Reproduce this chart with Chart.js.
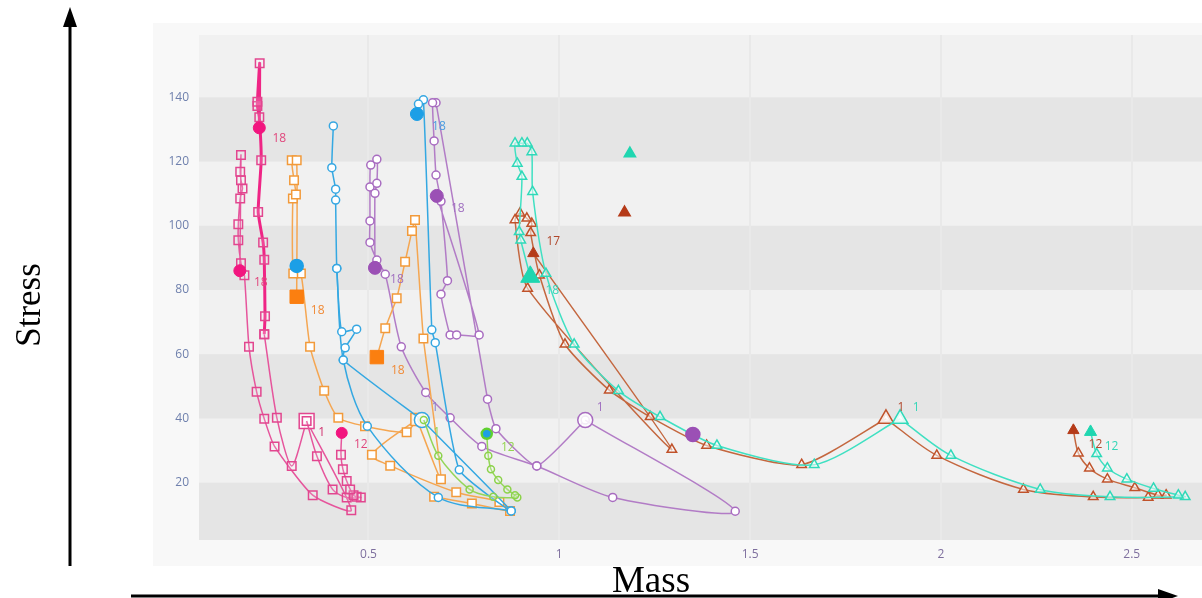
<!DOCTYPE html>
<html><head><meta charset="utf-8">
<script src="https://cdn.jsdelivr.net/npm/chart.js@4.4.0/dist/chart.umd.min.js"></script>
<style>
html,body{margin:0;padding:0;background:#fff;width:1202px;height:598px;overflow:hidden;}
#wrap{position:relative;width:1202px;height:598px;}
canvas,svg{position:absolute;left:0;top:0;}
</style></head><body>
<div id="wrap">
<canvas id="c" width="1202" height="598"></canvas>
<svg width="1202" height="598" xmlns="http://www.w3.org/2000/svg">
  <line x1="70" y1="566" x2="70" y2="24" stroke="#000" stroke-width="3"/>
  <polygon points="70,7 63,27 77,27" fill="#000"/>
  <line x1="131" y1="596" x2="1160" y2="596" stroke="#000" stroke-width="3"/>
  <polygon points="1178,596 1158,589 1158,603" fill="#000"/>
  <text transform="translate(40,305) rotate(-90)" text-anchor="middle" font-family="Liberation Serif" font-size="35" fill="#000">Stress</text>
  <text x="651" y="592" text-anchor="middle" font-family="Liberation Serif" font-size="37" fill="#000">Mass</text>
</svg>
</div>
<script>
// ---- axis ticks ----
const xTicks = [0.5, 1, 1.5, 2, 2.5];
const yTicks = [20, 40, 60, 80, 100, 120, 140];
const darkBands = [[0, 20], [40, 60], [80, 100], [120, 140]];
const X_MIN = 0.056, X_MAX = 2.684, Y_MIN = 2.15, Y_MAX = 159.4;

// ---- pink (squares) ----
const pinkA_x = [0.338, 0.299, 0.260, 0.227];
const pinkA_y = [39.2, 25.2, 40.2, 66.2];
const pinkT_x = [0.227, 0.229, 0.227, 0.224, 0.211, 0.219, 0.214, 0.209, 0.209, 0.215, 0.214];
const pinkT_y = [66.2, 71.8, 89.4, 94.8, 104.3, 120.4, 133.8, 137.3, 138.6, 150.6, 130.5];
const pinkB_x = [0.338, 0.455, 0.354, 0.254, 0.227, 0.207, 0.187, 0.175, 0.166, 0.159, 0.159, 0.164, 0.170, 0.166, 0.164, 0.166, 0.163];
const pinkB_y = [39.2, 11.4, 16.1, 31.3, 39.9, 48.3, 62.3, 84.6, 88.3, 95.5, 100.5, 108.5, 111.6, 114.2, 116.8, 122.0, 86.0];
const pinkC_x = [0.338, 0.365, 0.406, 0.443, 0.480, 0.469, 0.461, 0.452, 0.443, 0.433, 0.428, 0.430];
const pinkC_y = [39.2, 28.2, 17.9, 15.4, 15.4, 15.6, 16.1, 17.9, 20.5, 24.2, 28.7, 35.5];
// ---- orange (squares) ----
const orangeA_x = [0.627, 0.600, 0.491, 0.421, 0.384, 0.347, 0.323, 0.303, 0.302, 0.310, 0.305, 0.299, 0.312, 0.312];
const orangeA_y = [39.7, 35.7, 37.6, 40.2, 48.6, 62.3, 85.1, 85.1, 108.5, 109.7, 114.2, 120.4, 120.4, 77.9];
const orangeB_x = [0.627, 0.690, 0.644, 0.622, 0.614, 0.596, 0.574, 0.544, 0.522];
const orangeB_y = [39.7, 21.1, 64.9, 101.8, 98.4, 88.8, 77.4, 68.1, 59.1];
const orangeC_x = [0.627, 0.509, 0.557, 0.730, 0.843, 0.871, 0.771, 0.672];
const orangeC_y = [39.7, 28.7, 25.3, 17.0, 14.0, 11.2, 13.5, 15.6];
// ---- blue (circles) ----
const blueA_x = [0.640, 0.434, 0.439, 0.469, 0.430, 0.417, 0.414, 0.414, 0.404, 0.408];
const blueA_y = [39.5, 58.2, 62.0, 67.8, 67.0, 86.7, 108.0, 111.4, 118.1, 131.1];
const blueB_x = [0.640, 0.874, 0.738, 0.675, 0.666, 0.644, 0.631, 0.627];
const blueB_y = [39.5, 11.2, 24.0, 63.6, 67.6, 139.2, 137.9, 134.8];
const blueC_x = [0.417, 0.434, 0.497, 0.683, 0.874];
const blueC_y = [86.7, 58.2, 37.6, 15.4, 11.2];
// ---- purple (circles) ----
const purpleA_x = [1.068, 1.461, 1.140, 0.941, 0.797, 0.714, 0.650, 0.586, 0.544, 0.522, 0.504, 0.504, 0.504, 0.506, 0.522, 0.522, 0.517, 0.517];
const purpleA_y = [39.5, 11.1, 15.4, 25.2, 31.3, 40.2, 48.1, 62.3, 84.9, 89.3, 94.8, 101.5, 112.1, 118.9, 120.7, 113.2, 110.1, 86.9];
const purpleB_x = [1.068, 0.941, 0.834, 0.812, 0.677, 0.668, 0.672, 0.677, 0.690, 0.707, 0.690, 0.714, 0.731, 0.790, 0.679];
const purpleB_y = [39.5, 25.2, 36.8, 46.0, 138.3, 138.3, 126.4, 115.8, 107.6, 82.9, 78.7, 66.0, 66.0, 66.0, 109.3];
// ---- green (circles) ----
const greenA_x = [0.645, 0.683, 0.765, 0.827, 0.890, 0.884, 0.864, 0.840, 0.821, 0.814, 0.810];
const greenA_y = [39.5, 28.4, 17.9, 15.6, 15.4, 16.1, 17.9, 20.8, 24.2, 28.4, 35.2];
// ---- teal (triangles) ----
const tealA_x = [1.893, 1.668, 1.413, 1.264, 1.155, 1.039, 0.965, 0.930, 0.928, 0.916, 0.902, 0.884, 0.890, 0.902, 0.895, 0.899, 0.924];
const tealA_y = [39.9, 25.6, 31.6, 40.5, 48.6, 63.1, 85.1, 110.6, 123.0, 125.7, 125.7, 125.7, 119.4, 115.3, 98.1, 95.5, 84.1];
const tealB_x = [1.893, 2.026, 2.260, 2.443, 2.640, 2.622, 2.557, 2.487, 2.436, 2.408, 2.392];
const tealB_y = [39.9, 28.5, 17.9, 15.6, 15.6, 16.1, 18.2, 21.1, 24.5, 29.0, 35.8];
// ---- brown (triangles) ----
const brownA_x = [1.856, 1.635, 1.386, 1.238, 1.131, 1.015, 0.948, 0.925, 0.928, 0.915, 0.897, 0.884, 0.917, 1.295, 0.932];
const brownA_y = [39.9, 25.6, 31.6, 40.5, 48.8, 63.1, 84.6, 97.8, 100.7, 102.3, 103.9, 101.8, 80.5, 30.3, 91.4];
const brownB_x = [1.856, 1.989, 2.216, 2.399, 2.543, 2.590, 2.569, 2.508, 2.436, 2.389, 2.360, 2.347];
const brownB_y = [39.9, 28.5, 17.9, 15.6, 15.4, 16.1, 16.1, 18.4, 21.1, 24.5, 29.2, 36.3];
// ---- standalone reference markers ----
const ref_x = [0.312, 1.185, 1.171, 1.350];
const ref_y = [87.5, 122.5, 104.1, 35.0];

// ---- styles ----
const C = {
  pink:   {line:'#e6559c', mk:'#e2468f', fill:'#f2157f', text:'#e0467c'},
  pinkT:  {line:'#ef2585', mk:'#e2468f', fill:'#f2157f', text:'#e0467c'},
  orange: {line:'#f5a651', mk:'#f29a3a', fill:'#fb7f10', text:'#f08a36'},
  blue:   {line:'#34a8e2', mk:'#36a7e2', fill:'#1c9fe6', text:'#4a9de0'},
  purple: {line:'#b27cc6', mk:'#a86cc0', fill:'#9b50b5', text:'#a070c0'},
  green:  {line:'#94d658', mk:'#8cd24a', fill:'#1c9fe6', text:'#94d450'},
  teal:   {line:'#3fe0c2', mk:'#2fd9b9', fill:'#1fd6b0', text:'#35d6b8'},
  brown:  {line:'#c4673f', mk:'#c0522a', fill:'#b53a18', text:'#b0482c'}
};

function mk(name, xs, ys, c, o) {
  const n = xs.length;
  const data = xs.map((x, i) => ({x: x, y: ys[i]}));
  const st = i => (i === 0 && o.start) ? 'start' : (i === n - 1 && o.end) ? 'end' : 'mid';
  return {
    label: name,
    data: data, showLine: true, borderColor: c.line, borderWidth: o.lw || 1.5,
    tension: o.tension == null ? 0.3 : o.tension,
    pointStyle: data.map((_, i) => st(i) === 'end' ? (o.endStyle || o.style) : o.style),
    pointRadius: data.map((_, i) => ({start: o.startR, end: o.endR, mid: o.r})[st(i)]),
    pointBackgroundColor: data.map((_, i) => st(i) === 'end' ? c.fill : (st(i) === 'start' ? 'rgba(255,255,255,0.85)' : o.bg)),
    pointBorderColor: data.map((_, i) => st(i) === 'end' ? (o.endBorder || c.fill) : c.mk),
    pointBorderWidth: data.map((_, i) => st(i) === 'end' ? (o.endBW || 1) : 1.5),
    clip: 8
  };
}
const sq = {style:'rect', r:6, startR:10.5, endR:6, bg:'rgba(255,255,255,0.15)'};
const osq = {style:'rect', r:6, startR:8.5, endR:9.5, bg:'#ffffff'};
const cir = {style:'circle', r:4, startR:7.5, endR:6.5, bg:'#ffffff'};
const tri = {style:'triangle', r:5.5, startR:9, endR:6.5, bg:'rgba(255,255,255,0.5)'};
const A = (a, b) => Object.assign({}, a, b);

const datasets = [
  mk('ref', ref_x, ref_y, C.blue, {style:'circle', r:6}),
  mk('pinkC', pinkC_x, pinkC_y, C.pink, A(sq, {end:true, endStyle:'circle', endR:5.5})),
  mk('pinkA', pinkA_x, pinkA_y, C.pink, A(sq, {start:true, tension:0.25})),
  mk('pinkT', pinkT_x, pinkT_y, C.pinkT, A(sq, {end:true, endStyle:'circle', endR:6, lw:3, tension:0.15})),
  mk('pinkB', pinkB_x, pinkB_y, C.pink, A(sq, {end:true, endStyle:'circle', endR:6, tension:0.2})),
  mk('green', greenA_x, greenA_y, C.green, {style:'circle', r:3.5, startR:7, endR:5, bg:'rgba(255,255,255,0.2)', end:true, endBorder:'#5fd030', endBW:2.5}),
  mk('blueB', blueB_x, blueB_y, C.blue, A(cir, {start:true, end:true, tension:0.15})),
  mk('blueA', blueA_x, blueA_y, C.blue, A(cir, {tension:0.15})),
  mk('blueC', blueC_x, blueC_y, C.blue, A(cir, {})),
  mk('orangeA', orangeA_x, orangeA_y, C.orange, A(osq, {start:true, end:true, tension:0.2})),
  mk('orangeB', orangeB_x, orangeB_y, C.orange, A(osq, {end:true, tension:0.15})),
  mk('orangeC', orangeC_x, orangeC_y, C.orange, A(osq, {})),
  mk('purpleA', purpleA_x, purpleA_y, C.purple, A(cir, {start:true, end:true, tension:0.25})),
  mk('purpleB', purpleB_x, purpleB_y, C.purple, A(cir, {end:true, tension:0.15})),
  mk('tealA', tealA_x, tealA_y, C.teal, A(tri, {start:true, end:true, endR:11, tension:0.25})),
  mk('tealB', tealB_x, tealB_y, C.teal, A(tri, {end:true, endR:7})),
  mk('brownA', brownA_x, brownA_y, C.brown, A(tri, {start:true, end:true, tension:0.2})),
  mk('brownB', brownB_x, brownB_y, C.brown, A(tri, {end:true}))
];
// standalone marker styling
datasets[0].showLine = false;
datasets[0].pointStyle = ['circle', 'triangle', 'triangle', 'circle'];
datasets[0].pointRadius = [6.5, 6.5, 6.5, 7];
datasets[0].pointBackgroundColor = [C.blue.fill, C.teal.fill, C.brown.fill, C.purple.fill];
datasets[0].pointBorderColor = [C.blue.fill, C.teal.fill, C.brown.fill, C.purple.fill];

const labels = [
  {ds:'pinkT', pt:'last', text:'18', dx:20, dy:11, c:C.pink.text},
  {ds:'pinkB', pt:'last', text:'18', dx:21, dy:12, c:C.pink.text},
  {ds:'pinkA', pt:'first', text:'1', dx:15, dy:12, c:'#d0306e'},
  {ds:'pinkC', pt:'last', text:'12', dx:19, dy:12, c:C.pink.text},
  {ds:'orangeA', pt:'last', text:'18', dx:21, dy:14, c:C.orange.text},
  {ds:'orangeB', pt:'last', text:'18', dx:21, dy:13, c:C.orange.text},
  {ds:'blueB', pt:'last', text:'18', dx:22, dy:13, c:C.blue.text},
  {ds:'blueB', pt:'first', text:'1', dx:13, dy:-12, c:'#8a7ccc'},
  {ds:'green', pt:'first', text:'1', dx:13, dy:13, c:C.green.text},
  {ds:'green', pt:'last', text:'12', dx:21, dy:14, c:C.green.text},
  {ds:'purpleA', pt:'last', text:'18', dx:22, dy:12, c:C.purple.text},
  {ds:'purpleB', pt:'last', text:'18', dx:21, dy:13, c:C.purple.text},
  {ds:'purpleA', pt:'first', text:'1', dx:15, dy:-12, c:C.purple.text},
  {ds:'tealA', pt:'last', text:'18', dx:22, dy:14, c:C.teal.text},
  {ds:'tealA', pt:'first', text:'1', dx:16, dy:-11, c:C.teal.text},
  {ds:'tealB', pt:'last', text:'12', dx:21, dy:15, c:C.teal.text},
  {ds:'brownA', pt:'last', text:'17', dx:20, dy:-12, c:C.brown.text},
  {ds:'brownA', pt:'first', text:'1', dx:15, dy:-11, c:C.brown.text},
  {ds:'brownB', pt:'last', text:'12', dx:22, dy:14, c:C.brown.text}
];

const bgPlugin = {
  id: 'bg',
  beforeDraw(chart) {
    const ctx = chart.ctx, a = chart.chartArea, ys = chart.scales.y;
    ctx.save();
    ctx.fillStyle = '#f8f8f8';
    ctx.fillRect(153, 23, 1049, 543);
    ctx.fillStyle = '#f1f1f1';
    ctx.fillRect(a.left, a.top, a.right - a.left, a.bottom - a.top);
    ctx.fillStyle = '#e5e5e5';
    darkBands.forEach(b => {
      const y1 = ys.getPixelForValue(b[1]), y2 = Math.min(ys.getPixelForValue(b[0]), a.bottom);
      ctx.fillRect(a.left, y1, a.right - a.left, y2 - y1);
    });
    ctx.restore();
  }
};
const labelPlugin = {
  id: 'lbl',
  afterDatasetsDraw(chart) {
    const ctx = chart.ctx;
    ctx.save();
    ctx.font = '12px "Open Sans"';
    ctx.textAlign = 'center';
    ctx.textBaseline = 'middle';
    labels.forEach(l => {
      const idx = chart.data.datasets.findIndex(d => d.label === l.ds);
      const meta = chart.getDatasetMeta(idx);
      const p = l.pt === 'last' ? meta.data[meta.data.length - 1] : meta.data[0];
      ctx.fillStyle = l.c;
      ctx.fillText(l.text, p.x + l.dx, p.y + l.dy);
    });
    ctx.restore();
  }
};

new Chart(document.getElementById('c'), {
  type: 'scatter',
  data: {datasets: datasets},
  options: {
    responsive: false, animation: false, devicePixelRatio: 1,
    layout: {padding: {left: 153, top: 35, right: 0, bottom: 0}, autoPadding: false},
    plugins: {legend: {display: false}, tooltip: {enabled: false}},
    scales: {
      x: {
        type: 'linear', min: X_MIN, max: X_MAX,
        afterBuildTicks: s => { s.ticks = xTicks.map(v => ({value: v})); },
        afterFit: s => { s.height = 58; s.paddingLeft = 0; s.paddingRight = 0; },
        grid: {color: '#e9e9e9', lineWidth: 2, drawTicks: false},
        border: {display: false},
        ticks: {color: '#7e6f9e', font: {family: 'Open Sans', size: 12}, padding: 7, maxRotation: 0, callback: v => String(v)}
      },
      y: {
        type: 'linear', min: Y_MIN, max: Y_MAX,
        afterBuildTicks: s => { s.ticks = yTicks.map(v => ({value: v})); },
        afterFit: s => { s.width = 46; s.paddingTop = 0; s.paddingBottom = 0; },
        grid: {display: false, drawTicks: false},
        border: {display: false},
        ticks: {color: '#6f80ad', font: {family: 'Open Sans', size: 12}, padding: 10, callback: v => String(v)}
      }
    }
  },
  plugins: [bgPlugin, labelPlugin]
});
</script>
</body></html>
